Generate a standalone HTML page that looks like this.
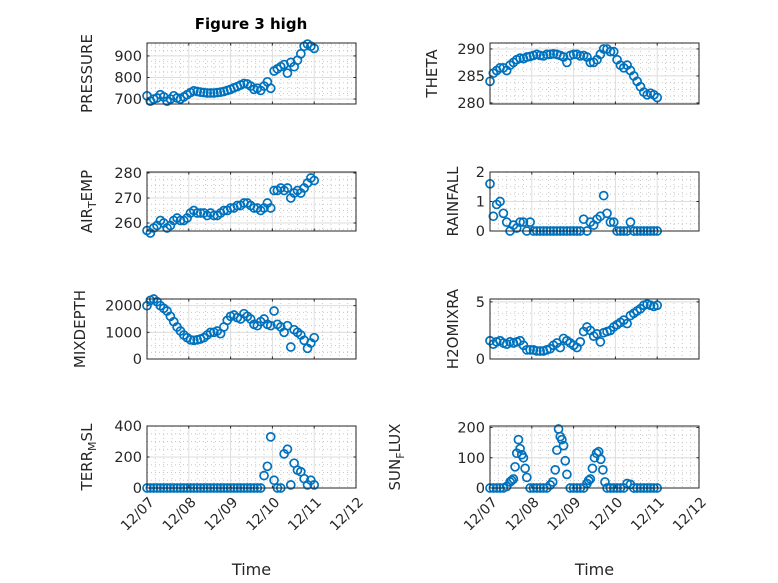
<!DOCTYPE html>
<html><head><meta charset="utf-8">
<style>
html,body{margin:0;padding:0;background:#fff;}
svg{display:block;font-family:"DejaVu Sans","Liberation Sans",sans-serif;}
</style></head>
<body>
<svg id="fig" width="778" height="583" viewBox="0 0 778 583" xmlns="http://www.w3.org/2000/svg">
<rect width="778" height="583" fill="#fff"/>
</svg>
<script>
const times = [0,0.08,0.16,0.24,0.32,0.4,0.48,0.56,0.64,0.72,0.8,0.88,0.96,1.04,1.12,1.2,1.28,1.36,1.44,1.52,1.6,1.68,1.76,1.84,1.92,2.0,2.08,2.16,2.24,2.32,2.4,2.48,2.56,2.64,2.72,2.8,2.88,2.96,3.04,3.12,3.2,3.28,3.36,3.44,3.52,3.6,3.68,3.76,3.84,3.92,4.0];
const xTickLabels = ["12/07","12/08","12/09","12/10","12/11","12/12"];
const pressure = [715,690,700,705,720,710,690,700,715,705,700,710,720,730,738,735,732,730,728,728,728,730,732,735,740,745,752,758,765,772,770,760,745,750,740,760,780,750,830,840,850,860,820,870,850,880,910,945,955,945,935];
const airTemp = [257,256,258,259,261,260,258,259,261,262,261,261,262,264,265,264,264,264,263,264,263,263,264,265,265,266,266,267,267,268,268,267,266,266,265,266,268,266,273,273,274,273,274,270,272,273,272,274,276,278,277];
const theta = [284,285.5,286,286.5,286.5,286,287,287.5,288,288.3,288.2,288.5,288.6,288.8,289,288.8,288.7,289,289,289.1,289,288.8,288.5,287.5,288.8,289,289,288.7,288.8,288.5,287.5,287.5,288,289,290,290,289.5,289.5,288,287,286.5,287,286,285,284,283,282,281.5,281.8,281.5,281];
const rainfall = [1.6,0.5,0.9,1.0,0.6,0.3,0,0.2,0.1,0.3,0.3,0,0.3,0,0,0,0,0,0,0,0,0,0,0,0,0,0,0,0.4,0,0.3,0.2,0.4,0.5,1.2,0.6,0.3,0.3,0,0,0,0,0.3,0,0,0,0,0,0,0,0];
const mixDepth = [2000,2200,2250,2150,2000,1900,1800,1600,1400,1200,1050,900,800,720,700,720,750,800,900,1000,1000,1050,950,1200,1450,1600,1650,1550,1500,1700,1600,1500,1300,1250,1400,1500,1300,1250,1800,1300,1200,1000,1250,450,1100,1000,900,700,400,600,800];
const h2oMixRa = [1.6,1.3,1.5,1.6,1.4,1.3,1.5,1.4,1.5,1.6,1.2,0.8,0.8,0.8,0.7,0.7,0.7,0.8,0.9,1.2,1.4,1.0,1.8,1.6,1.4,1.2,1.0,1.5,2.4,2.8,2.5,2.0,2.2,1.5,2.3,2.4,2.5,2.8,3.0,3.2,3.4,3.1,3.8,4.0,4.2,4.4,4.7,4.8,4.7,4.6,4.7];
const terrMsl = [0,0,0,0,0,0,0,0,0,0,0,0,0,0,0,0,0,0,0,0,0,0,0,0,0,0,0,0,0,0,0,0,0,0,0,80,140,330,50,0,0,220,250,20,160,115,105,60,20,50,20];
const sunTimes = [0,0.08,0.16,0.24,0.32,0.4,0.48,0.52,0.56,0.6,0.64,0.68,0.72,0.76,0.8,0.84,0.88,0.96,1.04,1.12,1.2,1.28,1.36,1.44,1.5,1.56,1.6,1.64,1.68,1.72,1.76,1.8,1.84,1.92,2.0,2.08,2.16,2.24,2.32,2.36,2.4,2.45,2.5,2.55,2.6,2.65,2.7,2.75,2.8,2.88,2.96,3.04,3.12,3.2,3.28,3.36,3.44,3.52,3.6,3.68,3.76,3.84,3.92,4.0];
const sunFlux = [0,0,0,0,0,5,20,25,30,70,115,160,130,110,100,65,35,0,0,0,0,0,0,10,20,60,125,195,170,160,140,90,45,0,0,0,0,0,15,25,30,65,100,115,120,95,60,20,0,0,0,0,0,0,15,12,0,0,0,0,0,0,0,0];
const pressureTicks = [700,800,900];
const airTicks = [260,270,280];
const thetaTicks = [280,285,290];
const rainTicks = [0,1,2];
const mixTicks = [0,1000,2000];
const h2oTicks = [0,5];
const terrTicks = [0,200,400];
const sunTicks = [0,100,200];

const NS = "http://www.w3.org/2000/svg";
const svg = document.getElementById('fig');
function mk(tag, attrs, parent){const e=document.createElementNS(NS,tag);for(const k in attrs)e.setAttribute(k,attrs[k]);(parent||svg).appendChild(e);return e;}

const panels = [
 {name:'pressure',x:147,y:43,w:209,h:61,ymin:677,ymax:960,ticks:pressureTicks,t:times,v:pressure,label:['PRESSURE'],lx:87,bottom:false},
 {name:'theta',x:490,y:43,w:209,h:61,ymin:279.8,ymax:291.1,ticks:thetaTicks,t:times,v:theta,label:['THETA'],lx:432,bottom:false},
 {name:'air-temp',x:147,y:172,w:209,h:59,ymin:256.8,ymax:280.4,ticks:airTicks,t:times,v:airTemp,label:['AIR','T','EMP'],lx:87,bottom:false},
 {name:'rainfall',x:490,y:172,w:209,h:59,ymin:0,ymax:2,ticks:rainTicks,t:times,v:rainfall,label:['RAINFALL'],lx:453,bottom:false},
 {name:'mixdepth',x:147,y:299,w:209,h:60,ymin:0,ymax:2250,ticks:mixTicks,t:times,v:mixDepth,label:['MIXDEPTH'],lx:80,bottom:false},
 {name:'h2omixra',x:490,y:299,w:209,h:60,ymin:0,ymax:5.25,ticks:h2oTicks,t:times,v:h2oMixRa,label:['H2OMIXRA'],lx:453,bottom:false},
 {name:'terr-msl',x:147,y:426,w:209,h:62,ymin:0,ymax:400,ticks:terrTicks,t:times,v:terrMsl,label:['TERR','M','SL'],lx:87,bottom:true},
 {name:'sun-flux',x:490,y:426,w:209,h:62,ymin:0,ymax:205,ticks:sunTicks,t:sunTimes,v:sunFlux,label:['SUN','F','LUX'],lx:395,bottom:true}
];

panels.forEach(p=>{
  const g = mk('g',{});
  
  
  const xs = d => p.x + d/5*p.w;
  const ys = v => p.y + p.h - (v-p.ymin)/(p.ymax-p.ymin)*p.h;
  mk('rect',{x:p.x,y:p.y,width:p.w,height:p.h,fill:'#fff'},g);
  for(let d=0; d<5; d++) for(let m=1;m<5;m++){
    const X=xs(d+m/5);
    mk('line',{x1:X,x2:X,y1:p.y,y2:p.y+p.h,stroke:'#c8c8c8','stroke-width':1,'stroke-dasharray':'1,3'},g);
  }
  const tstep = p.ticks.length>1 ? p.ticks[1]-p.ticks[0] : 1;
  const ms = tstep/ (p.name==='h2omixra'?5:4);
  for(let v=p.ticks[0]-tstep; v<=p.ymax+1e-9; v+=ms){
    if(v<=p.ymin||v>=p.ymax) continue;
    const Y=ys(v);
    mk('line',{x1:p.x,x2:p.x+p.w,y1:Y,y2:Y,stroke:'#c8c8c8','stroke-width':1,'stroke-dasharray':'1,3'},g);
  }
  for(let d=1; d<5; d++){const X=xs(d);mk('line',{x1:X,x2:X,y1:p.y,y2:p.y+p.h,stroke:'#dedede','stroke-width':1},g);}
  p.ticks.forEach(v=>{const Y=ys(v);if(v>p.ymin&&v<p.ymax)mk('line',{x1:p.x,x2:p.x+p.w,y1:Y,y2:Y,stroke:'#dedede','stroke-width':1},g);});
  const n=Math.min(p.t.length,p.v.length);
  for(let i=0;i<n;i++){
    const c=mk('circle',{cx:xs(p.t[i]),cy:ys(p.v[i]),r:4,fill:'none',stroke:'#0072BD','stroke-width':1.7},g);
    
    
  }
  mk('rect',{x:p.x,y:p.y,width:p.w,height:p.h,fill:'none',stroke:'#262626','stroke-width':1},g);
  for(let d=0; d<=5; d++){const X=xs(d);
    mk('line',{x1:X,x2:X,y1:p.y+p.h,y2:p.y+p.h-2.5,stroke:'#262626'},g);
    mk('line',{x1:X,x2:X,y1:p.y,y2:p.y+2.5,stroke:'#262626'},g);
    if(p.bottom){
      const ax=X+8, ay=p.y+p.h+15;
      const t=mk('text',{x:ax,y:ay,'font-size':14,fill:'#262626','text-anchor':'end',transform:`rotate(-45 ${ax} ${ay})`},g);
      t.textContent=xTickLabels[d];
      
      
    }
  }
  p.ticks.forEach(v=>{const Y=ys(v);
    mk('line',{x1:p.x,x2:p.x+2.5,y1:Y,y2:Y,stroke:'#262626'},g);
    mk('line',{x1:p.x+p.w,x2:p.x+p.w-2.5,y1:Y,y2:Y,stroke:'#262626'},g);
    const t=mk('text',{x:p.x-5,y:Y+5,'font-size':14.5,fill:'#262626','text-anchor':'end'},g);
    t.textContent=String(v);
    
    
  });
  const cy=p.y+p.h/2;
  const lab=mk('text',{x:p.lx+5,y:cy,'font-size':15,fill:'#262626','text-anchor':'middle',transform:`rotate(-90 ${p.lx+5} ${cy})`},g);
  
  
  if(p.label.length===1){lab.textContent=p.label[0];}
  else{
    const a=mk('tspan',{},lab);a.textContent=p.label[0];
    const b=mk('tspan',{'font-size':11,dy:4},lab);b.textContent=p.label[1];
    const c=mk('tspan',{dy:-4},lab);c.textContent=p.label[2];
  }
  if(p.bottom){
    const tt=mk('text',{x:p.x+p.w/2,y:575,'font-size':16,fill:'#262626','text-anchor':'middle'},g);
    tt.textContent='Time';
    
    
  }
});
const title=mk('text',{x:251,y:29,'font-size':15,'font-weight':'bold',fill:'#000','text-anchor':'middle'});
title.textContent='Figure 3 high';


</script>
</body></html>
